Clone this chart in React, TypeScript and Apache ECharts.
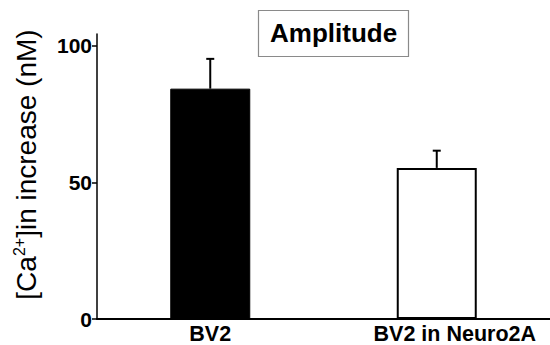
import React, { useEffect, useRef } from "react";
import * as echarts from "echarts";

const categories = ["BV2", "BV2 in Neuro2A"];
const means = [84.3, 55.3];
const errorTops = [95.2, 61.6];
const yTicks = [0, 50, 100];

const FONT = "Liberation Sans, Arial, sans-serif";

export default function App() {
  const ref = useRef<HTMLDivElement>(null);
  useEffect(() => {
    if (!ref.current) return;
    const chart = echarts.init(ref.current, null, { renderer: "svg" });
    chart.setOption({
      animation: false,
      backgroundColor: "#ffffff",
      title: {
        text: "Amplitude",
        left: 258,
        top: 10,
        padding: [10, 12, 11, 12],
        borderWidth: 1.2,
        borderColor: "#8a8a8a",
        textStyle: { fontFamily: FONT, fontSize: 26, fontWeight: "bold", color: "#000" },
      },
      grid: { left: 97, right: -11, top: 34, bottom: 23, containLabel: false },
      xAxis: {
        type: "category",
        data: categories.map((c, i) =>
          i === 1 ? { value: c, textStyle: { padding: [0, 0, 0, 36] } } : { value: c }
        ),
        axisLine: { lineStyle: { color: "#000", width: 2 } },
        axisTick: { show: false },
        axisLabel: {
          color: "#000",
          fontFamily: FONT,
          fontSize: 21.5,
          fontWeight: "bold",
          margin: 4,
        },
      },
      yAxis: {
        type: "value",
        min: 0,
        max: 104.3,
        interval: 50,
        splitLine: { show: false },
        axisLine: { show: true, lineStyle: { color: "#000", width: 1.5 } },
        axisTick: { show: true, length: 5, customValues: yTicks, lineStyle: { color: "#000", width: 1.5 } },
        axisLabel: {
          customValues: yTicks,
          color: "#000",
          fontFamily: FONT,
          fontSize: 21,
          fontWeight: "bold",
          margin: 5,
        },
        name: "[Ca{sup|2+}]in increase (nM)",
        nameLocation: "middle",
        nameRotate: 90,
        nameGap: 56,
        nameTextStyle: {
          color: "#000",
          fontFamily: FONT,
          fontSize: 28,
          lineHeight: 30,
          padding: [0, 0, 0, 24],
          rich: {
            sup: { fontFamily: FONT, fontSize: 16, color: "#000", verticalAlign: "top", lineHeight: 30 },
          },
        },
      },
      series: [
        {
          type: "bar",
          barWidth: 80,
          data: means.map((v, i) => ({
            value: v,
            itemStyle:
              i === 0
                ? { color: "#000", borderColor: "#000", borderWidth: 1 }
                : { color: "#fff", borderColor: "#000", borderWidth: 2 },
          })),
          z: 2,
        },
        {
          type: "custom",
          data: means.map((v, i) => [i, v, errorTops[i]]),
          z: 3,
          renderItem: (params: any, api: any) => {
            const x = api.value(0);
            const base = api.coord([x, api.value(1)]);
            const top = api.coord([x, api.value(2)]);
            const cap = 4;
            return {
              type: "group",
              children: [
                {
                  type: "line",
                  shape: { x1: base[0], y1: base[1], x2: top[0], y2: top[1] },
                  style: { stroke: "#000", lineWidth: 2 },
                },
                {
                  type: "line",
                  shape: { x1: top[0] - cap, y1: top[1], x2: top[0] + cap, y2: top[1] },
                  style: { stroke: "#000", lineWidth: 2 },
                },
              ],
            };
          },
        },
      ],
    });
    return () => chart.dispose();
  }, []);
  return <div ref={ref} style={{ width: 550, height: 345, position: "absolute", left: 0, top: 0 }} />;
}
